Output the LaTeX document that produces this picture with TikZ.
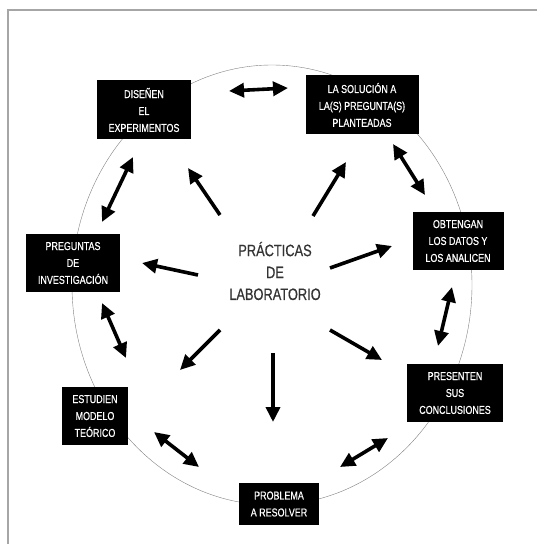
\documentclass[tikz,border=0pt]{standalone}
\usepackage{fontspec}
\setmainfont{Liberation Sans}
\newfontfamily\angosta[FakeStretch=0.78,FakeBold=0.6]{Liberation Sans}
\usetikzlibrary{arrows.meta}
\tikzset{
  caja/.style={fill=black,text=white,align=center,inner sep=2pt,
    font=\angosta\fontsize{11.5}{17}\selectfont},
  flecha/.style={->,line width=3.6bp},
  dflecha/.style={<->,line width=3.6bp}
}
\begin{document}
\begin{tikzpicture}[x=1bp,y=-1bp,>={Triangle[length=15bp,width=14bp]}]
\useasboundingbox (0,0) rectangle (537,544);
% marco
\draw[gray!70,line width=2bp] (8,544) -- (8,10.5) -- (537,10.5);
% circulo
\draw[gray,thin] (272,285) ellipse (200 and 220);
% centro
\node[align=center,text=black!80,font=\angosta\fontsize{16.5}{22}\selectfont] (lab) at (275,271)
  {PRÁCTICAS\\DE\\LABORATORIO};
% cajas
\node[caja,minimum width=94bp,minimum height=59bp] (dis) at (144,110) {DISEÑEN\\EL\\EXPERIMENTOS};
\node[caja,minimum width=113bp,minimum height=59bp] (sol) at (362,105) {LA SOLUCIÓN A\\LA(S) PREGUNTA(S)\\PLANTEADAS};
\node[caja,minimum width=91bp,minimum height=58bp] (obt) at (458,241) {OBTENGAN\\LOS DATOS Y\\LOS ANALICEN};
\node[caja,minimum width=93bp,minimum height=58bp] (pre) at (73,263) {PREGUNTAS\\DE\\INVESTIGACIÓN};
\node[caja,minimum width=96bp,minimum height=58bp] (prs) at (455,393) {PRESENTEN\\SUS\\CONCLUSIONES};
\node[caja,minimum width=66bp,minimum height=58bp] (est) at (95,416) {ESTUDIEN\\MODELO\\TEÓRICO};
\node[caja,minimum width=80bp,minimum height=42bp] (pro) at (279,504) {PROBLEMA\\A RESOLVER};
% flechas radiales
\coordinate (t1) at (220,215); \coordinate (h1) at (188,168);
\coordinate (t2) at (313,216); \coordinate (h2) at (346,162);
\coordinate (t3) at (198,275); \coordinate (h3) at (142,263);
\coordinate (t4) at (330,268); \coordinate (h4) at (392,246);
\coordinate (t5) at (220,330); \coordinate (h5) at (180,370);
\coordinate (t6) at (273,353); \coordinate (h6) at (273,422);
\coordinate (t7) at (330,330); \coordinate (h7) at (382,360);
\foreach \i in {1,...,7} \draw[flecha] (t\i) -- (h\i);
% flechas dobles sobre el circulo
\coordinate (a1) at (229,91);  \coordinate (b1) at (288,88);
\coordinate (a2) at (133,157); \coordinate (b2) at (102,222);
\coordinate (a3) at (393,144); \coordinate (b3) at (425,195);
\coordinate (a4) at (102,303); \coordinate (b4) at (126,358);
\coordinate (a5) at (452,287); \coordinate (b5) at (438,346);
\coordinate (a6) at (154,432); \coordinate (b6) at (199,467);
\coordinate (a7) at (340,467); \coordinate (b7) at (388,438);
\foreach \i in {1,...,7} \draw[dflecha] (a\i) -- (b\i);
\end{tikzpicture}
\end{document}
